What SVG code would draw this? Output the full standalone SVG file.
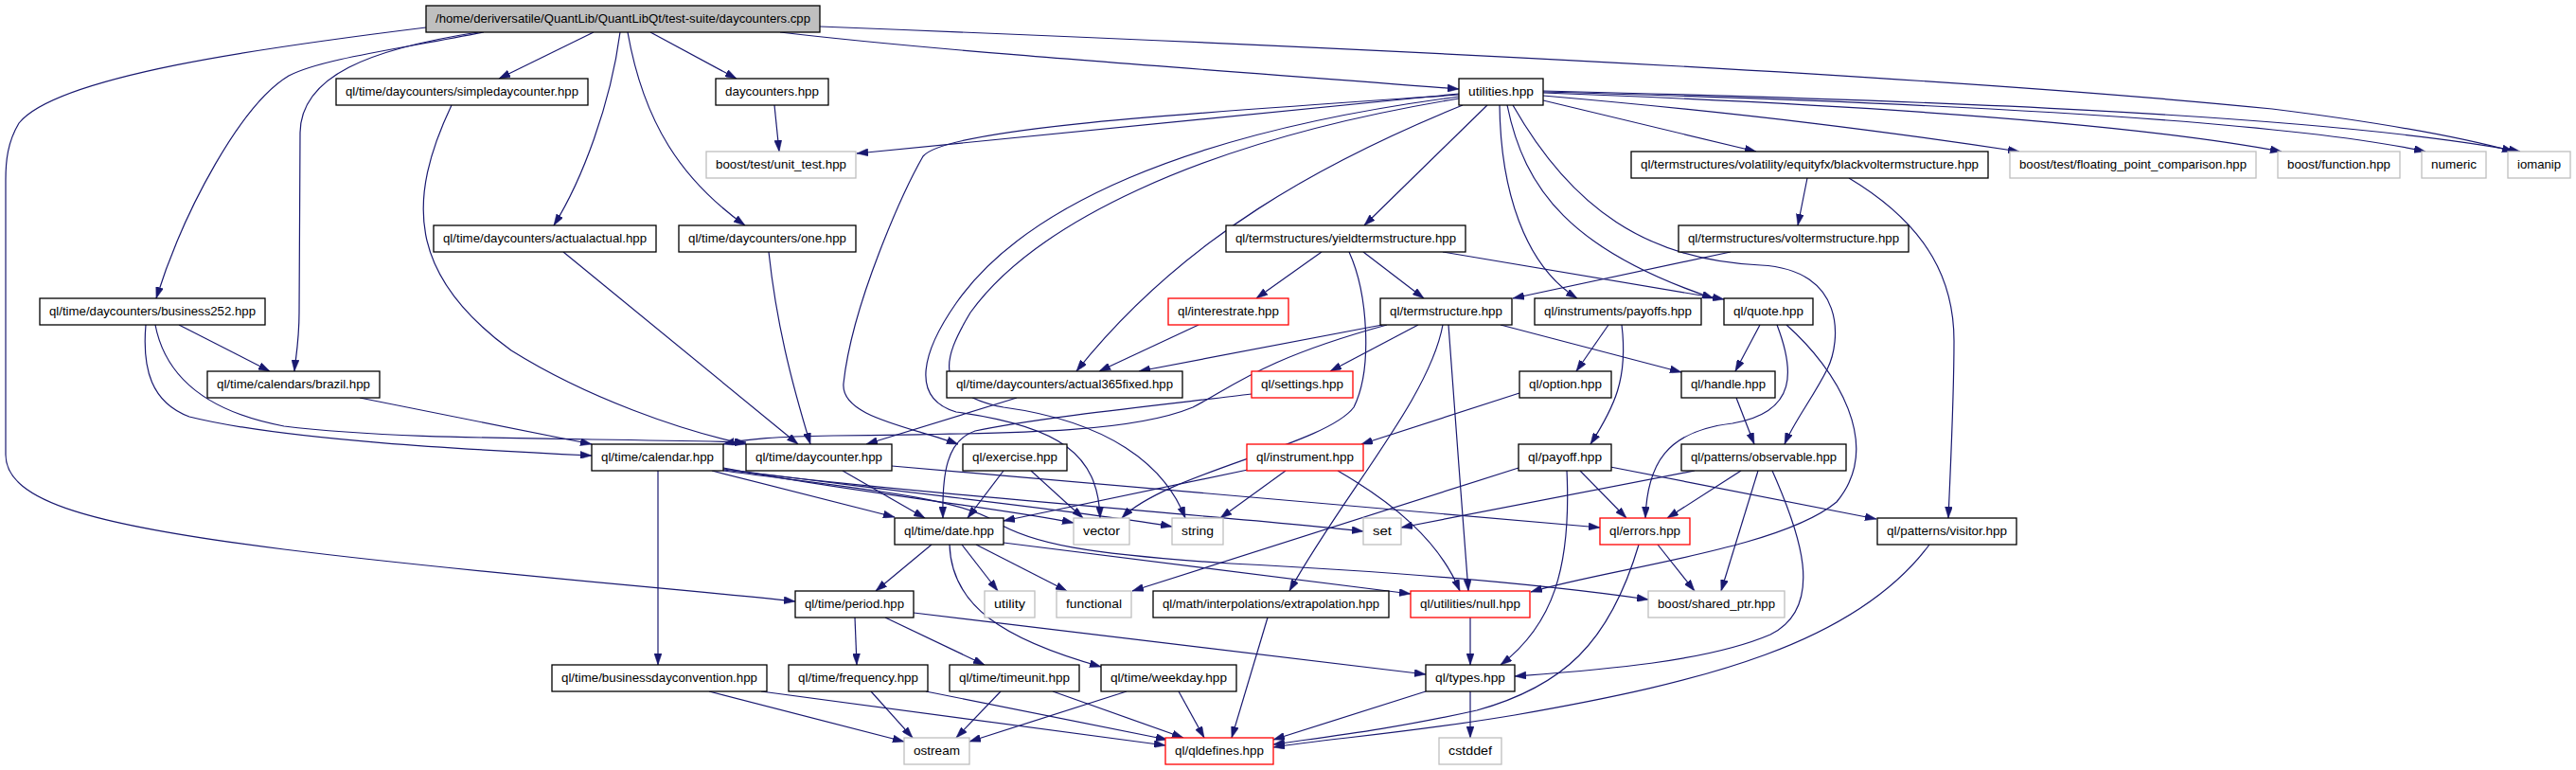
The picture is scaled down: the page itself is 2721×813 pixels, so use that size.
<svg xmlns="http://www.w3.org/2000/svg" width="2721" height="813" viewBox="0 0 2721 813">
<style>
.e{fill:none;stroke:#191970;stroke-width:1.2;marker-end:url(#a)}
.n rect{fill:#fff;stroke:#000;stroke-width:1.3}
.g rect{fill:#fff;stroke:#bfbfbf;stroke-width:1.3}
.r rect{fill:#fff;stroke:#ff0000;stroke-width:1.3}
.root rect{fill:#bfbfbf;stroke:#000;stroke-width:1.3}
text{font-family:"Liberation Sans",Arial,Helvetica,sans-serif;font-size:13px;fill:#000;text-anchor:middle}
</style>
<defs>
<marker id="a" markerWidth="12" markerHeight="8" refX="12" refY="4" orient="auto" markerUnits="userSpaceOnUse"><path d="M0,0L12,4L0,8z" fill="#191970" stroke="#191970" stroke-width="0.5"/></marker>
</defs>
<rect width="2721" height="813" fill="#fff"/>
<g id="edges">
<path class="e" d="M627,34 L527,83"/>
<path class="e" d="M687,34 L778,83"/>
<path class="e" d="M655,34 C645,110 615,190 585,238"/>
<path class="e" d="M663,34 C680,130 720,190 787,238"/>
<path class="e" d="M511,34 C420,52 340,62 305,80 C255,110 195,220 165,315"/>
<path class="e" d="M505,34 C390,52 318,80 317,140 L316,330 C316,360 312,380 311,392"/>
<path class="e" d="M450,29 C280,50 60,80 20,130 C8,150 6,170 6,190 L6,480 C6,530 100,555 300,580 C500,605 700,620 840,635"/>
<path class="e" d="M824,34 C1000,55 1300,75 1541,94"/>
<path class="e" d="M866,28 C1300,45 2000,75 2400,115 C2520,130 2600,145 2655,160"/>
<path class="e" d="M1630,96 C2000,105 2450,120 2662,160"/>
<path class="e" d="M1630,97 C2000,107 2400,125 2562,160"/>
<path class="e" d="M1630,98 C1950,110 2250,130 2410,160"/>
<path class="e" d="M1630,101 C1850,120 2000,140 2133,160"/>
<path class="e" d="M1630,106 L1855,160"/>
<path class="e" d="M1541,99 L905,162"/>
<path class="e" d="M1541,100 C1250,120 1000,135 975,165 C955,200 900,320 891,405 C888,440 960,450 1012,469"/>
<path class="e" d="M1541,102 C1250,140 1080,220 1010,320 C975,370 960,420 1010,435 C1120,450 1160,480 1162,547"/>
<path class="e" d="M1541,104 C1260,150 1090,240 1025,330 C995,380 985,415 1060,430 C1170,445 1230,490 1252,547"/>
<path class="e" d="M1545,111 C1400,170 1250,250 1137,392"/>
<path class="e" d="M1571,111 L1441,238"/>
<path class="e" d="M1584,111 C1585,200 1610,280 1666,315"/>
<path class="e" d="M1592,111 C1610,200 1660,265 1810,315"/>
<path class="e" d="M1598,111 C1660,220 1740,275 1860,280 C1950,285 1945,360 1930,390 C1915,420 1895,445 1885,469"/>
<path class="e" d="M1859,343 L1833,392"/>
<path class="e" d="M1877,343 C1895,390 1900,435 1830,447 C1760,455 1740,490 1738,547"/>
<path class="e" d="M1887,343 C1940,390 1990,470 1940,530 C1880,580 1700,600 1617,625"/>
<path class="e" d="M1834,420 L1853,469"/>
<path class="e" d="M1699,343 L1665,392"/>
<path class="e" d="M1713,343 C1720,400 1705,430 1680,469"/>
<path class="e" d="M1605,415 L1438,469"/>
<path class="e" d="M1655,497 C1660,600 1640,660 1585,702"/>
<path class="e" d="M1669,497 L1718,547"/>
<path class="e" d="M1604,494 L1196,624"/>
<path class="e" d="M1701,493 L1982,548"/>
<path class="e" d="M1839,497 L1761,547"/>
<path class="e" d="M1790,497 L1480,557"/>
<path class="e" d="M1857,497 L1818,624"/>
<path class="e" d="M1872,497 C1900,560 1930,640 1870,670 C1800,700 1680,708 1600,714"/>
<path class="e" d="M2038,575 C1960,680 1800,720 1600,755 C1480,775 1400,780 1345,789"/>
<path class="e" d="M1731,575 C1700,680 1650,725 1560,750 C1470,770 1400,778 1345,786"/>
<path class="e" d="M1751,575 L1790,624"/>
<path class="e" d="M1909,188 L1899,238"/>
<path class="e" d="M1953,188 C2040,240 2064,300 2064,360 C2064,420 2060,500 2058,547"/>
<path class="e" d="M1828,266 L1598,315"/>
<path class="e" d="M1396,266 L1327,315"/>
<path class="e" d="M1440,266 L1504,315"/>
<path class="e" d="M1524,266 L1821,316"/>
<path class="e" d="M1425,266 C1445,310 1450,390 1430,430 C1400,470 1230,500 1185,547"/>
<path class="e" d="M1266,343 L1161,392"/>
<path class="e" d="M1460,343 L1203,392"/>
<path class="e" d="M1498,343 L1405,392"/>
<path class="e" d="M1585,343 L1776,393"/>
<path class="e" d="M1524,343 C1510,420 1420,520 1362,624"/>
<path class="e" d="M1530,343 C1535,420 1545,540 1551,624"/>
<path class="e" d="M1465,343 C1330,380 1300,410 1260,430 C1200,455 1100,458 880,460 C820,461 790,463 764,469"/>
<path class="e" d="M1322,416 C1250,425 1100,440 1030,455 C1000,465 995,500 996,547"/>
<path class="e" d="M1074,420 L915,469"/>
<path class="e" d="M477,111 C430,210 430,290 540,370 C620,420 720,455 788,469"/>
<path class="e" d="M595,266 L843,469"/>
<path class="e" d="M812,266 C820,340 835,400 856,469"/>
<path class="e" d="M189,343 L285,392"/>
<path class="e" d="M154,343 C150,390 160,425 200,440 C300,465 500,475 625,481"/>
<path class="e" d="M164,343 C175,400 220,435 300,450 C420,465 600,462 788,467"/>
<path class="e" d="M380,420 L625,469"/>
<path class="e" d="M695,497 L695,702"/>
<path class="e" d="M752,497 L945,546"/>
<path class="e" d="M764,494 C900,520 1050,535 1134,552"/>
<path class="e" d="M764,495 C950,520 1150,540 1238,556"/>
<path class="e" d="M764,496 C1000,525 1300,545 1440,561"/>
<path class="e" d="M764,497 C900,515 1010,525 1050,550 C1090,575 1150,585 1300,595 C1500,605 1650,620 1741,633"/>
<path class="e" d="M890,497 L977,547"/>
<path class="e" d="M942,492 L1690,557"/>
<path class="e" d="M1060,497 L1022,547"/>
<path class="e" d="M1089,497 L1144,547"/>
<path class="e" d="M1318,496 L1060,550"/>
<path class="e" d="M1358,497 L1289,547"/>
<path class="e" d="M1413,497 C1470,530 1520,570 1542,624"/>
<path class="e" d="M984,575 L925,624"/>
<path class="e" d="M1016,575 L1054,624"/>
<path class="e" d="M1031,575 L1127,624"/>
<path class="e" d="M1003,575 C1005,640 1060,675 1163,704"/>
<path class="e" d="M1060,573 L1490,627"/>
<path class="e" d="M903,652 L905,702"/>
<path class="e" d="M935,652 L1040,702"/>
<path class="e" d="M965,647 L1506,712"/>
<path class="e" d="M749,730 L955,783"/>
<path class="e" d="M804,730 L1231,787"/>
<path class="e" d="M920,730 L964,779"/>
<path class="e" d="M978,730 L1233,781"/>
<path class="e" d="M1057,730 L1010,779"/>
<path class="e" d="M1112,730 L1250,779"/>
<path class="e" d="M1190,730 L1024,783"/>
<path class="e" d="M1245,730 L1272,779"/>
<path class="e" d="M1339,652 L1301,779"/>
<path class="e" d="M1553,652 L1553,702"/>
<path class="e" d="M1506,730 L1345,781"/>
<path class="e" d="M1553,730 L1553,779"/>
<path class="e" d="M818,111 L823,160"/>
</g>
<g id="n0" class="root"><rect x="450" y="6" width="416" height="28"/><text x="658" y="24" textLength="396" lengthAdjust="spacingAndGlyphs">/home/deriversatile/QuantLib/QuantLibQt/test-suite/daycounters.cpp</text></g>
<g id="n1" class="n"><rect x="355" y="83" width="266" height="28"/><text x="488" y="101" textLength="246" lengthAdjust="spacingAndGlyphs">ql/time/daycounters/simpledaycounter.hpp</text></g>
<g id="n2" class="n"><rect x="756" y="83" width="119" height="28"/><text x="815.5" y="101" textLength="99" lengthAdjust="spacingAndGlyphs">daycounters.hpp</text></g>
<g id="n3" class="n"><rect x="1541" y="83" width="89" height="28"/><text x="1585.5" y="101" textLength="69" lengthAdjust="spacingAndGlyphs">utilities.hpp</text></g>
<g id="n4" class="g"><rect x="746" y="160" width="158" height="28"/><text x="825" y="178" textLength="138" lengthAdjust="spacingAndGlyphs">boost/test/unit_test.hpp</text></g>
<g id="n5" class="n"><rect x="1723" y="160" width="377" height="28"/><text x="1911.5" y="178" textLength="357" lengthAdjust="spacingAndGlyphs">ql/termstructures/volatility/equityfx/blackvoltermstructure.hpp</text></g>
<g id="n6" class="g"><rect x="2123" y="160" width="260" height="28"/><text x="2253" y="178" textLength="240" lengthAdjust="spacingAndGlyphs">boost/test/floating_point_comparison.hpp</text></g>
<g id="n7" class="g"><rect x="2406" y="160" width="129" height="28"/><text x="2470.5" y="178" textLength="109" lengthAdjust="spacingAndGlyphs">boost/function.hpp</text></g>
<g id="n8" class="g"><rect x="2558" y="160" width="68" height="28"/><text x="2592" y="178" textLength="48" lengthAdjust="spacingAndGlyphs">numeric</text></g>
<g id="n9" class="g"><rect x="2649" y="160" width="66" height="28"/><text x="2682" y="178" textLength="46" lengthAdjust="spacingAndGlyphs">iomanip</text></g>
<g id="n10" class="n"><rect x="458" y="238" width="235" height="28"/><text x="575.5" y="256" textLength="215" lengthAdjust="spacingAndGlyphs">ql/time/daycounters/actualactual.hpp</text></g>
<g id="n11" class="n"><rect x="717" y="238" width="187" height="28"/><text x="810.5" y="256" textLength="167" lengthAdjust="spacingAndGlyphs">ql/time/daycounters/one.hpp</text></g>
<g id="n12" class="n"><rect x="1295" y="238" width="253" height="28"/><text x="1421.5" y="256" textLength="233" lengthAdjust="spacingAndGlyphs">ql/termstructures/yieldtermstructure.hpp</text></g>
<g id="n13" class="n"><rect x="1773" y="238" width="243" height="28"/><text x="1894.5" y="256" textLength="223" lengthAdjust="spacingAndGlyphs">ql/termstructures/voltermstructure.hpp</text></g>
<g id="n14" class="n"><rect x="42" y="315" width="238" height="28"/><text x="161" y="333" textLength="218" lengthAdjust="spacingAndGlyphs">ql/time/daycounters/business252.hpp</text></g>
<g id="n15" class="r"><rect x="1234" y="315" width="127" height="28"/><text x="1297.5" y="333" textLength="107" lengthAdjust="spacingAndGlyphs">ql/interestrate.hpp</text></g>
<g id="n16" class="n"><rect x="1458" y="315" width="139" height="28"/><text x="1527.5" y="333" textLength="119" lengthAdjust="spacingAndGlyphs">ql/termstructure.hpp</text></g>
<g id="n17" class="n"><rect x="1621" y="315" width="176" height="28"/><text x="1709" y="333" textLength="156" lengthAdjust="spacingAndGlyphs">ql/instruments/payoffs.hpp</text></g>
<g id="n18" class="n"><rect x="1821" y="315" width="94" height="28"/><text x="1868" y="333" textLength="74" lengthAdjust="spacingAndGlyphs">ql/quote.hpp</text></g>
<g id="n19" class="n"><rect x="219" y="392" width="182" height="28"/><text x="310" y="410" textLength="162" lengthAdjust="spacingAndGlyphs">ql/time/calendars/brazil.hpp</text></g>
<g id="n20" class="n"><rect x="1000" y="392" width="249" height="28"/><text x="1124.5" y="410" textLength="229" lengthAdjust="spacingAndGlyphs">ql/time/daycounters/actual365fixed.hpp</text></g>
<g id="n21" class="r"><rect x="1322" y="392" width="107" height="28"/><text x="1375.5" y="410" textLength="87" lengthAdjust="spacingAndGlyphs">ql/settings.hpp</text></g>
<g id="n22" class="n"><rect x="1605" y="392" width="97" height="28"/><text x="1653.5" y="410" textLength="77" lengthAdjust="spacingAndGlyphs">ql/option.hpp</text></g>
<g id="n23" class="n"><rect x="1776" y="392" width="99" height="28"/><text x="1825.5" y="410" textLength="79" lengthAdjust="spacingAndGlyphs">ql/handle.hpp</text></g>
<g id="n24" class="n"><rect x="625" y="469" width="139" height="28"/><text x="694.5" y="487" textLength="119" lengthAdjust="spacingAndGlyphs">ql/time/calendar.hpp</text></g>
<g id="n25" class="n"><rect x="788" y="469" width="154" height="28"/><text x="865" y="487" textLength="134" lengthAdjust="spacingAndGlyphs">ql/time/daycounter.hpp</text></g>
<g id="n26" class="n"><rect x="1017" y="469" width="110" height="28"/><text x="1072" y="487" textLength="90" lengthAdjust="spacingAndGlyphs">ql/exercise.hpp</text></g>
<g id="n27" class="r"><rect x="1317" y="469" width="123" height="28"/><text x="1378.5" y="487" textLength="103" lengthAdjust="spacingAndGlyphs">ql/instrument.hpp</text></g>
<g id="n28" class="n"><rect x="1604" y="469" width="98" height="28"/><text x="1653" y="487" textLength="78" lengthAdjust="spacingAndGlyphs">ql/payoff.hpp</text></g>
<g id="n29" class="n"><rect x="1776" y="469" width="174" height="28"/><text x="1863" y="487" textLength="154" lengthAdjust="spacingAndGlyphs">ql/patterns/observable.hpp</text></g>
<g id="n30" class="n"><rect x="945" y="547" width="115" height="28"/><text x="1002.5" y="565" textLength="95" lengthAdjust="spacingAndGlyphs">ql/time/date.hpp</text></g>
<g id="n31" class="g"><rect x="1134" y="547" width="59" height="28"/><text x="1163.5" y="565" textLength="39" lengthAdjust="spacingAndGlyphs">vector</text></g>
<g id="n32" class="g"><rect x="1238" y="547" width="54" height="28"/><text x="1265" y="565" textLength="34" lengthAdjust="spacingAndGlyphs">string</text></g>
<g id="n33" class="g"><rect x="1440" y="547" width="40" height="28"/><text x="1460" y="565" textLength="20" lengthAdjust="spacingAndGlyphs">set</text></g>
<g id="n34" class="r"><rect x="1690" y="547" width="95" height="28"/><text x="1737.5" y="565" textLength="75" lengthAdjust="spacingAndGlyphs">ql/errors.hpp</text></g>
<g id="n35" class="n"><rect x="1983" y="547" width="147" height="28"/><text x="2056.5" y="565" textLength="127" lengthAdjust="spacingAndGlyphs">ql/patterns/visitor.hpp</text></g>
<g id="n36" class="n"><rect x="840" y="624" width="125" height="28"/><text x="902.5" y="642" textLength="105" lengthAdjust="spacingAndGlyphs">ql/time/period.hpp</text></g>
<g id="n37" class="g"><rect x="1040" y="624" width="53" height="28"/><text x="1066.5" y="642" textLength="33" lengthAdjust="spacingAndGlyphs">utility</text></g>
<g id="n38" class="g"><rect x="1116" y="624" width="79" height="28"/><text x="1155.5" y="642" textLength="59" lengthAdjust="spacingAndGlyphs">functional</text></g>
<g id="n39" class="n"><rect x="1218" y="624" width="249" height="28"/><text x="1342.5" y="642" textLength="229" lengthAdjust="spacingAndGlyphs">ql/math/interpolations/extrapolation.hpp</text></g>
<g id="n40" class="r"><rect x="1490" y="624" width="126" height="28"/><text x="1553" y="642" textLength="106" lengthAdjust="spacingAndGlyphs">ql/utilities/null.hpp</text></g>
<g id="n41" class="g"><rect x="1741" y="624" width="144" height="28"/><text x="1813" y="642" textLength="124" lengthAdjust="spacingAndGlyphs">boost/shared_ptr.hpp</text></g>
<g id="n42" class="n"><rect x="583" y="702" width="227" height="28"/><text x="696.5" y="720" textLength="207" lengthAdjust="spacingAndGlyphs">ql/time/businessdayconvention.hpp</text></g>
<g id="n43" class="n"><rect x="833" y="702" width="147" height="28"/><text x="906.5" y="720" textLength="127" lengthAdjust="spacingAndGlyphs">ql/time/frequency.hpp</text></g>
<g id="n44" class="n"><rect x="1003" y="702" width="137" height="28"/><text x="1071.5" y="720" textLength="117" lengthAdjust="spacingAndGlyphs">ql/time/timeunit.hpp</text></g>
<g id="n45" class="n"><rect x="1163" y="702" width="143" height="28"/><text x="1234.5" y="720" textLength="123" lengthAdjust="spacingAndGlyphs">ql/time/weekday.hpp</text></g>
<g id="n46" class="n"><rect x="1506" y="702" width="94" height="28"/><text x="1553" y="720" textLength="74" lengthAdjust="spacingAndGlyphs">ql/types.hpp</text></g>
<g id="n47" class="g"><rect x="955" y="779" width="69" height="28"/><text x="989.5" y="797" textLength="49" lengthAdjust="spacingAndGlyphs">ostream</text></g>
<g id="n48" class="r"><rect x="1231" y="779" width="114" height="28"/><text x="1288" y="797" textLength="94" lengthAdjust="spacingAndGlyphs">ql/qldefines.hpp</text></g>
<g id="n49" class="g"><rect x="1520" y="779" width="66" height="28"/><text x="1553" y="797" textLength="46" lengthAdjust="spacingAndGlyphs">cstddef</text></g>
</svg>
